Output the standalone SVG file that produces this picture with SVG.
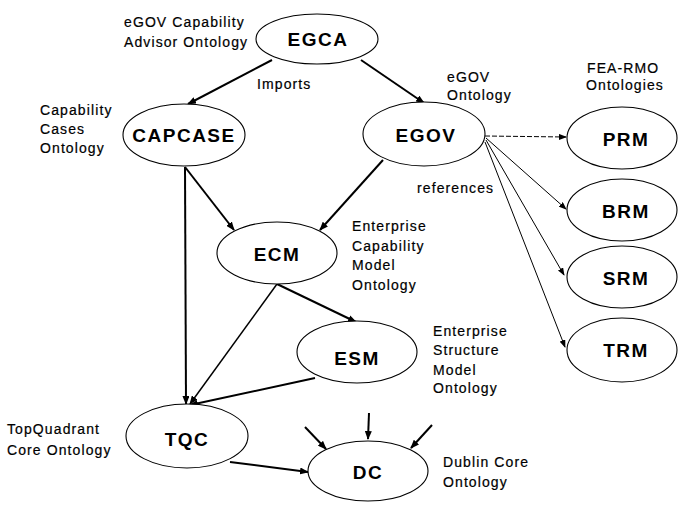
<svg xmlns="http://www.w3.org/2000/svg" width="680" height="505" viewBox="0 0 680 505">
  <style>
    .node ellipse { fill: #ffffff; stroke: #000000; stroke-width: 1.1; }
    .node text { font-family: "Liberation Sans", Arial, sans-serif; font-size: 19px; font-weight: bold; letter-spacing: 1.5px; text-anchor: middle; fill: #000000; }
    .label { font-family: "Liberation Sans", Arial, sans-serif; font-size: 14px; letter-spacing: 1.1px; fill: #000000; stroke: #000000; stroke-width: 0.2; }
    .edge { fill: none; stroke: #000000; stroke-width: 2; marker-end: url(#arrow); }
    .edge.thin { stroke-width: 1.5; }
    .ref { fill: none; stroke: #000000; stroke-width: 1; marker-end: url(#arrowSmall); }
    .ref.dashed { stroke-dasharray: 5 2; }
  </style>
  <defs>
    <marker id="arrow" markerUnits="userSpaceOnUse" markerWidth="9" markerHeight="7" refX="8" refY="3.5" orient="auto">
      <path d="M0,0 L9,3.5 L0,7 Z" fill="#000000"/>
    </marker>
    <marker id="arrowSmall" markerUnits="userSpaceOnUse" markerWidth="8" markerHeight="6" refX="7" refY="3" orient="auto">
      <path d="M0,0 L8,3 L0,6 Z" fill="#000000"/>
    </marker>
  </defs>
  <rect width="680" height="505" fill="#ffffff"/>

  <!-- connectors -->
  <g id="connectors">
    <path class="edge" d="M272,60 L188,104"/>
    <path class="edge" d="M361,60 L424,103"/>
    <path class="edge" d="M185,167 L234,230"/>
    <path class="edge" d="M383,160 L320,230"/>
    <path class="edge" d="M185,167 L186,404"/>
    <path class="edge thin" d="M277,284 L190,404"/>
    <path class="edge" d="M277,284 L356,322"/>
    <path class="edge" d="M315,378 L190,405"/>
    <path class="edge" d="M230,462 L308,472"/>
    <path class="edge" d="M305,427 L326,449"/>
    <path class="edge" d="M369,413 L368,439"/>
    <path class="edge" d="M432,425 L411,448"/>
    <path class="ref dashed" d="M485,136 L566,137"/>
    <path class="ref" d="M486,138 L566,209"/>
    <path class="ref" d="M486,140 L564,275"/>
    <path class="ref" d="M485,142 L565,347"/>
  </g>

  <!-- nodes -->
  <g id="EGCA" class="node">
    <ellipse cx="317" cy="39" rx="61" ry="25"/>
    <text x="318" y="46">EGCA</text>
  </g>
  <g id="CAPCASE" class="node">
    <ellipse cx="184" cy="135" rx="61" ry="31"/>
    <text x="184" y="142">CAPCASE</text>
  </g>
  <g id="EGOV" class="node">
    <ellipse cx="424" cy="134" rx="61" ry="32"/>
    <text x="426" y="142">EGOV</text>
  </g>
  <g id="ECM" class="node">
    <ellipse cx="277" cy="253" rx="60" ry="31"/>
    <text x="277" y="261">ECM</text>
  </g>
  <g id="ESM" class="node">
    <ellipse cx="357" cy="352" rx="60" ry="31"/>
    <text x="357" y="365">ESM</text>
  </g>
  <g id="TQC" class="node">
    <ellipse cx="187" cy="436" rx="61" ry="32"/>
    <text x="187" y="446">TQC</text>
  </g>
  <g id="DC" class="node">
    <ellipse cx="368" cy="471" rx="60" ry="30"/>
    <text x="368" y="479">DC</text>
  </g>
  <g id="PRM" class="node">
    <ellipse cx="622" cy="138" rx="55" ry="31"/>
    <text x="626" y="146">PRM</text>
  </g>
  <g id="BRM" class="node">
    <ellipse cx="622" cy="210" rx="55" ry="31"/>
    <text x="626" y="218">BRM</text>
  </g>
  <g id="SRM" class="node">
    <ellipse cx="622" cy="277" rx="55" ry="31"/>
    <text x="626" y="285">SRM</text>
  </g>
  <g id="TRM" class="node">
    <ellipse cx="622" cy="350" rx="55" ry="32"/>
    <text x="626" y="357">TRM</text>
  </g>

  <!-- annotations -->
  <g id="labels">
    <text class="label" x="124" y="27">eGOV Capability</text>
    <text class="label" x="124" y="47">Advisor Ontology</text>
    <text class="label" x="257" y="89">Imports</text>
    <text class="label" x="40" y="115">Capability</text>
    <text class="label" x="40" y="134">Cases</text>
    <text class="label" x="40" y="153">Ontology</text>
    <text class="label" x="447" y="82">eGOV</text>
    <text class="label" x="447" y="100">Ontology</text>
    <text class="label" x="587" y="73">FEA-RMO</text>
    <text class="label" x="586" y="90">Ontologies</text>
    <text class="label" x="417" y="193">references</text>
    <text class="label" x="352" y="231">Enterprise</text>
    <text class="label" x="352" y="251">Capability</text>
    <text class="label" x="352" y="270">Model</text>
    <text class="label" x="352" y="290">Ontology</text>
    <text class="label" x="433" y="336">Enterprise</text>
    <text class="label" x="433" y="355">Structure</text>
    <text class="label" x="433" y="375">Model</text>
    <text class="label" x="433" y="393">Ontology</text>
    <text class="label" x="7" y="434">TopQuadrant</text>
    <text class="label" x="7" y="455">Core Ontology</text>
    <text class="label" x="443" y="467">Dublin Core</text>
    <text class="label" x="443" y="487">Ontology</text>
  </g>
</svg>
